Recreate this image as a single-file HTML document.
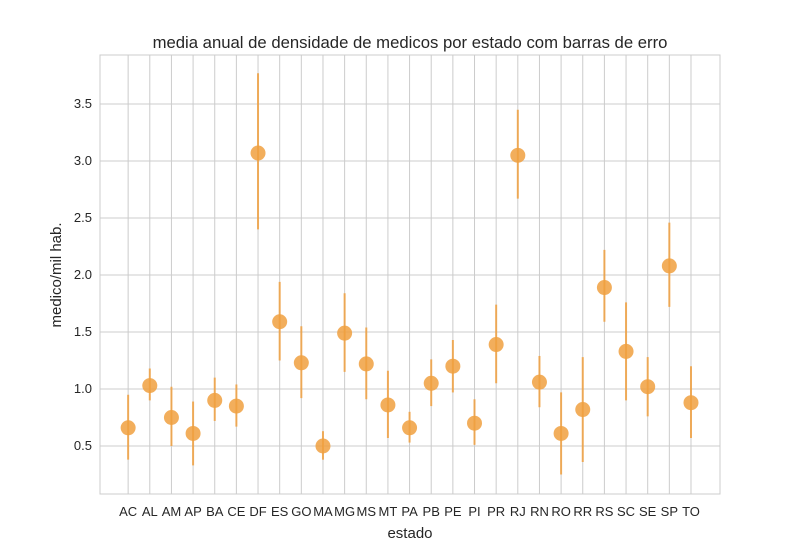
<!DOCTYPE html>
<html><head><meta charset="utf-8"><style>
body{margin:0;background:#fff;}
svg text{font-family:"Liberation Sans",sans-serif;fill:#262626;}
</style></head><body>
<svg id="chart" width="800" height="550" xmlns="http://www.w3.org/2000/svg">
<rect x="0" y="0" width="800" height="550" fill="#fff"/>
<text x="410" y="48" font-size="16.7" text-anchor="middle">media anual de densidade de medicos por estado com barras de erro</text>
<g id="grid"></g>
<rect x="100" y="55" width="620" height="439" fill="none" stroke="#cccccc" stroke-width="1"/>
<g id="marks"></g>
<g id="ticks"></g>
<text x="410" y="538" font-size="15" text-anchor="middle">estado</text>
<text transform="translate(61,275) rotate(-90)" font-size="15" text-anchor="middle">medico/mil hab.</text>
</svg>
<script>
const categories=["AC","AL","AM","AP","BA","CE","DF","ES","GO","MA","MG","MS","MT","PA","PB","PE","PI","PR","RJ","RN","RO","RR","RS","SC","SE","SP","TO"];
const means=[0.66,1.03,0.75,0.61,0.90,0.85,3.07,1.59,1.23,0.50,1.49,1.22,0.86,0.66,1.05,1.20,0.70,1.39,3.05,1.06,0.61,0.82,1.89,1.33,1.02,2.08,0.88];
const lows=[0.38,0.90,0.50,0.33,0.72,0.67,2.40,1.25,0.92,0.38,1.15,0.91,0.57,0.53,0.85,0.97,0.51,1.05,2.67,0.84,0.25,0.36,1.59,0.90,0.76,1.72,0.57];
const highs=[0.95,1.18,1.02,0.89,1.10,1.04,3.77,1.94,1.55,0.63,1.84,1.54,1.16,0.80,1.26,1.43,0.91,1.74,3.45,1.29,0.97,1.28,2.22,1.76,1.28,2.46,1.20];
const yTicks=[0.5,1.0,1.5,2.0,2.5,3.0,3.5];
const yTickLabels=["0.5","1.0","1.5","2.0","2.5","3.0","3.5"];
const NS="http://www.w3.org/2000/svg";
const L=100,R=720,T=55,B=494,ymin=0.079,ymax=3.93,xmin=-1.3,xmax=categories.length-1+1.34;
const xs=i=>L+(i-xmin)/(xmax-xmin)*(R-L);
const ys=v=>B-(v-ymin)/(ymax-ymin)*(B-T);
function mk(tag,attrs,parent){const e=document.createElementNS(NS,tag);for(const k in attrs)e.setAttribute(k,attrs[k]);parent.appendChild(e);return e;}
const grid=document.getElementById('grid'),marks=document.getElementById('marks'),ticks=document.getElementById('ticks');
yTicks.forEach((v,i)=>{
 const l=mk('line',{x1:L,x2:R,y1:ys(v),y2:ys(v),stroke:'#cccccc'},grid);
 
 
 const t=mk('text',{x:L-8,y:ys(v)+4,'font-size':13,'text-anchor':'end'},ticks);
 t.textContent=yTickLabels[i];
 
 
});
categories.forEach((c,i)=>{
 const x=xs(i);
 const g=mk('line',{x1:x,x2:x,y1:T,y2:B,stroke:'#cccccc'},grid);
 
 
 const t=mk('text',{x:x,y:516,'font-size':13,'text-anchor':'middle'},ticks);
 t.textContent=c;
 
 
 const e=mk('line',{x1:x,x2:x,y1:ys(lows[i]),y2:ys(highs[i]),stroke:'#f0a040','stroke-width':2,opacity:0.85},marks);
 
 
 const p=mk('circle',{cx:x,cy:ys(means[i]),r:7.5,fill:'#f0a040',opacity:0.85},marks);
 
 
});
</script>
</body></html>
